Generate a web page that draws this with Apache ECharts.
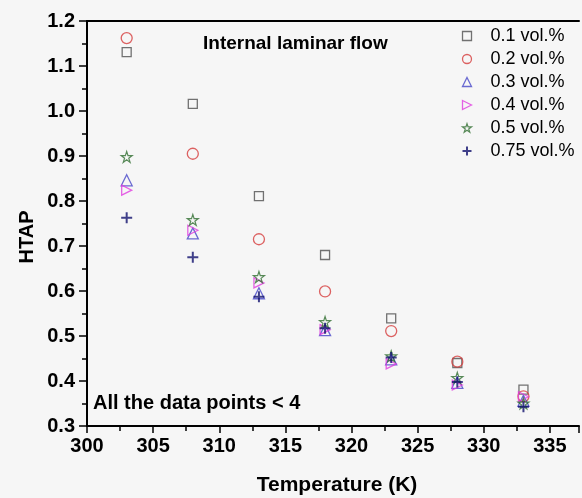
<!DOCTYPE html>
<html>
<head>
<meta charset="utf-8">
<script src="https://cdn.jsdelivr.net/npm/echarts@6/dist/echarts.min.js"></script>
<style>
  html, body { margin: 0; padding: 0; background: #f6f6f6; }
  #chart { width: 582px; height: 498px; }
</style>
</head>
<body>
<div id="chart"></div>
<script>
// Temperatures (K) at which HTAP was evaluated
const temperatures = [303, 308, 313, 318, 323, 328, 333];

// HTAP values for each nanofluid concentration
const htap01  = [1.131, 1.016, 0.811, 0.680, 0.539, 0.440, 0.381];
const htap02  = [1.162, 0.905, 0.715, 0.599, 0.511, 0.443, 0.366];
const htap03  = [0.846, 0.728, 0.595, 0.513, 0.448, 0.396, 0.356];
const htap04  = [0.824, 0.735, 0.618, 0.514, 0.438, 0.391, 0.365];
const htap05  = [0.898, 0.758, 0.631, 0.531, 0.455, 0.407, 0.350];
const htap075 = [0.763, 0.675, 0.587, 0.517, 0.452, 0.398, 0.343];

const seriesNames = ['0.1 vol.%', '0.2 vol.%', '0.3 vol.%', '0.4 vol.%', '0.5 vol.%', '0.75 vol.%'];

const FONT = "'Liberation Sans', Arial, sans-serif";

// Hollow marker shapes
const STAR = 'path://M5,0L6.2,3.6L10,3.6L6.9,5.9L8.1,9.5L5,7.3L1.9,9.5L3.1,5.9L0,3.6L3.8,3.6Z';
const RIGHT_TRI = 'path://M0,0L10,5L0,10Z';
const PLUS = 'path://M5,0L5,10M0,5L10,5';

const styles = [
  { symbol: 'rect',     size: 9,  color: '#505050', width: 1.3 },
  { symbol: 'circle',   size: 11, color: '#d63c3c', width: 1.3 },
  { symbol: 'triangle', size: 11, color: '#4646c8', width: 1.3 },
  { symbol: RIGHT_TRI,  size: 10, color: '#e03ce0', width: 1.3 },
  { symbol: STAR,       size: 11, color: '#2f6e2f', width: 1.2 },
  { symbol: PLUS,       size: 11, color: '#12126e', width: 2.0 }
];

const values = [htap01, htap02, htap03, htap04, htap05, htap075];

const hollow = (i) => ({
  color: 'none',
  borderColor: styles[i].color,
  borderWidth: styles[i].width
});

const series = values.map((vals, i) => ({
  name: seriesNames[i],
  type: 'scatter',
  xAxisIndex: 0,
  symbol: styles[i].symbol,
  symbolSize: styles[i].size,
  itemStyle: hollow(i),
  emphasis: { disabled: true },
  data: temperatures.map((t, k) => [t, vals[k]])
}));

const chart = echarts.init(document.getElementById('chart'), null, { renderer: 'canvas' });

// The x range runs a little past the last tick so the frame continues to the right edge
const X_MIN = 300, X_MAX = 337.2;

const tickStyle = { color: '#000', width: 1.5 };

chart.setOption({
  backgroundColor: '#f6f6f6',
  animation: false,
  grid: { left: 87, top: 21, width: 495, height: 405 },
  xAxis: [
    {
      type: 'value', position: 'bottom',
      min: X_MIN, max: X_MAX, interval: 5,
      axisLine: { lineStyle: { color: '#000', width: 2 } },
      axisTick: { show: true, length: 7, lineStyle: tickStyle },
      minorTick: { show: true, splitNumber: 2, length: 5, lineStyle: tickStyle },
      splitLine: { show: false },
      axisLabel: {
        color: '#000', fontFamily: FONT, fontWeight: 'bold', fontSize: 20, margin: 10,
        formatter: v => (v > 335.5 ? '' : String(v))
      }
    },
    {
      // top frame line
      type: 'value', position: 'top',
      min: X_MIN, max: X_MAX,
      axisLine: { show: true, onZero: false, lineStyle: { color: '#000', width: 2 } },
      axisTick: { show: false },
      axisLabel: { show: false },
      splitLine: { show: false }
    }
  ],
  yAxis: {
    type: 'value',
    min: 0.3, max: 1.2, interval: 0.1,
    axisLine: { show: true, lineStyle: { color: '#000', width: 2 } },
    axisTick: { show: true, length: 8, lineStyle: tickStyle },
    minorTick: { show: true, splitNumber: 2, length: 5, lineStyle: tickStyle },
    splitLine: { show: false },
    axisLabel: {
      color: '#000', fontFamily: FONT, fontWeight: 'bold', fontSize: 20, margin: 12,
      formatter: v => v.toFixed(1)
    }
  },
  legend: {
    orient: 'vertical',
    left: 455, top: 22,
    itemWidth: 9, itemHeight: 9,
    itemGap: 5,
    selectedMode: false,
    textStyle: {
      color: '#000', fontFamily: FONT, fontSize: 18, lineHeight: 16,
      padding: [0, 0, 0, 14]
    },
    data: seriesNames.map((name, i) => ({ name, itemStyle: hollow(i) }))
  },
  graphic: [
    {
      type: 'text', x: 203, y: 44,
      style: { text: 'Internal laminar flow', font: 'bold 19px ' + FONT, fill: '#000',
               align: 'left', verticalAlign: 'middle' }
    },
    {
      type: 'text', x: 93, y: 403,
      style: { text: 'All the data points < 4', font: 'bold 20px ' + FONT, fill: '#000',
               align: 'left', verticalAlign: 'middle' }
    },
    {
      type: 'text', x: 337, y: 485,
      style: { text: 'Temperature (K)', font: 'bold 21px ' + FONT, fill: '#000',
               align: 'center', verticalAlign: 'middle' }
    },
    {
      type: 'text', x: 27, y: 237, rotation: Math.PI / 2,
      style: { text: 'HTAP', font: 'bold 20px ' + FONT, fill: '#000',
               align: 'center', verticalAlign: 'middle' }
    }
  ],
  series: series
});
</script>
</body>
</html>
